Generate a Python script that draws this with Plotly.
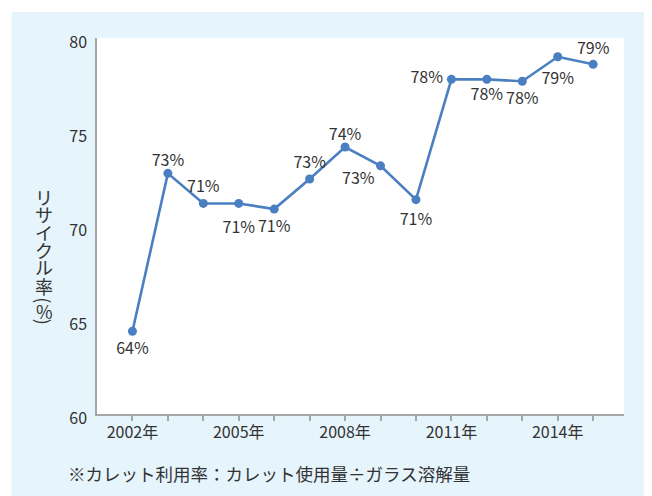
import plotly.graph_objects as go

years = list(range(2002, 2016))
rates = [64.4, 72.8, 71.2, 71.2, 70.9, 72.5, 74.2, 73.2, 71.4, 77.8, 77.8, 77.7, 79.0, 78.6]
labels = ["64%", "73%", "71%", "71%", "71%", "73%", "74%", "73%", "71%", "78%", "78%", "78%", "79%", "79%"]
label_pos = ["bottom center", "top center", "top center", "bottom center", "bottom center",
             "top center", "top center", "bottom left", "bottom center", "middle left",
             "bottom center", "bottom center", "bottom center", "top center"]
label_gap = [16, 4, 10, 26, 16, 10, 3, 8, 20, 12, 12, 16, 22, 8]
tick_years = [2002, 2005, 2008, 2011, 2014]
tick_text = [f"{y}年" if y in tick_years else "" for y in years]
y_ticks = [60, 65, 70, 75, 80]
title_chars = ["リ", "サ", "イ", "ク", "ル", "率", "(", "%", ")"]
title_char_y = [196.5, 214, 232, 250, 267, 286, 300, 311, 321.5]
title_char_angle = [0, 0, 0, 0, 0, 0, 90, 0, 90]
footnote = "※カレット利用率：カレット使用量÷ガラス溶解量"

OFF = 8  # page body margin
W, H = 644, 488
L, R, T, B = 88.5, 28, 30, 82.3
PW, PH = W - L - R, H - T - B

def px_x(px):
    return (px - OFF - L) / PW

def px_y(py):
    return (H - B - (py - OFF)) / PH

FONT = "Noto Sans CJK JP, Noto Sans, sans-serif"
LINE = "#4A7FC1"
AX = "#A6A6A6"
TXT = "#333333"

fig = go.Figure()
fig.add_trace(go.Scatter(
    x=years, y=rates, mode="lines+markers",
    line=dict(color=LINE, width=2.6),
    marker=dict(color=LINE, size=9, line=dict(width=0)),
    cliponaxis=False, hoverinfo="skip",
))
fig.add_trace(go.Scatter(
    x=years, y=rates, mode="markers+text",
    marker=dict(color=LINE, size=label_gap, opacity=0, line=dict(width=0)),
    text=labels, textposition=label_pos,
    textfont=dict(family=FONT, size=16, color=TXT),
    cliponaxis=False, hoverinfo="skip",
))

shapes = [
    dict(type="rect", xref="paper", yref="paper", layer="below",
         x0=px_x(0), x1=px_x(700), y0=px_y(12), y1=px_y(0),
         fillcolor="white", line=dict(width=0)),
    dict(type="rect", xref="paper", yref="paper", layer="below",
         x0=px_x(0), x1=px_x(11), y0=px_y(520), y1=px_y(0),
         fillcolor="white", line=dict(width=0)),
]

annotations = []
for ch, cy, ang in zip(title_chars, title_char_y, title_char_angle):
    annotations.append(dict(
        text=ch, xref="paper", yref="paper", x=px_x(43.5), y=px_y(cy),
        xanchor="center", yanchor="middle", showarrow=False, textangle=ang,
        font=dict(family=FONT, size=18, color=TXT),
    ))
annotations.append(dict(
    text=footnote, xref="paper", yref="paper", x=px_x(65), y=px_y(473),
    xanchor="left", yanchor="middle", showarrow=False,
    font=dict(family=FONT, size=17.5, color=TXT),
))

fig.update_layout(
    width=W, height=H,
    margin=dict(l=L, r=R, t=T, b=B, pad=0),
    paper_bgcolor="#E6F4FC", plot_bgcolor="white",
    showlegend=False,
    shapes=shapes, annotations=annotations,
    font=dict(family=FONT, size=16, color=TXT),
    xaxis=dict(
        range=[2001, 2015.87], tickvals=years, ticktext=tick_text,
        showgrid=False, zeroline=False, showline=True, linecolor=AX, linewidth=1.5,
        ticks="outside", ticklen=5, tickcolor=AX, tickwidth=1.5,
        ticklabelstandoff=-2,
        tickfont=dict(family=FONT, size=16, color=TXT),
    ),
    yaxis=dict(
        range=[60, 80], tickvals=y_ticks,
        showgrid=False, zeroline=False, showline=True, linecolor=AX, linewidth=1.5,
        ticks="", ticklabelstandoff=5, ticklabelshift=4,
        tickfont=dict(family=FONT, size=16, color=TXT),
    ),
)

fig.write_html("out.html")
